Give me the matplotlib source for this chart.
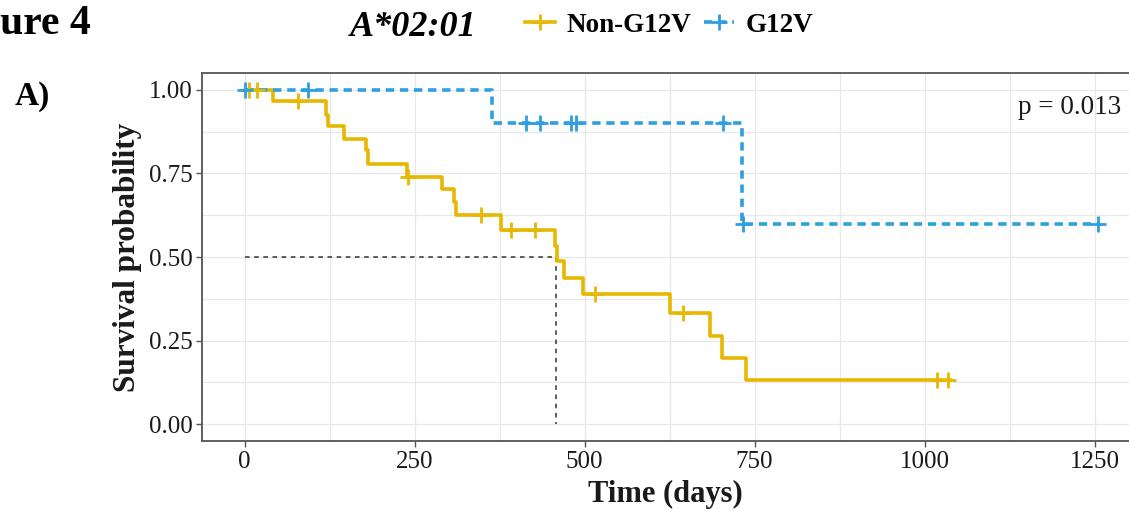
"""
Kaplan-Meier curves, A*02:01 cohort, Non-G12V vs G12V (Figure 4A).
Step values and censor times read off the published figure.
"""

import matplotlib
matplotlib.use("Agg")
import matplotlib.pyplot as plt
import numpy as np
from matplotlib.lines import Line2D

# --- data -------------------------------------------------------------------
non_times = [0, 41, 119, 122, 146, 178, 181, 238, 290, 308, 311, 377, 457, 460,
             469, 498, 626, 684, 702, 738, 1038]
non_surv = [1.0, 0.967, 0.925, 0.892, 0.853, 0.82, 0.777, 0.74, 0.702, 0.665,
            0.625, 0.58, 0.532, 0.487, 0.437, 0.39, 0.332, 0.265, 0.198, 0.133, 0.133]
non_censor = [6, 18, 78, 240, 347, 392, 427, 515, 645, 1019, 1034]

g12v_times = [0, 364, 731, 1255]
g12v_surv = [1.0, 0.9, 0.6, 0.6]
g12v_censor = [0, 93, 414, 435, 480, 488, 703, 733, 1255]

median_non = 458
p_label = "p = 0.013"
x_ticks = [0, 250, 500, 750, 1000, 1250]
y_ticks = [0.0, 0.25, 0.5, 0.75, 1.0]

YELLOW, BLUE = "#E7B800", "#2E9FDF"
INK, BORDER, GRID = "#1a1a1a", "#555555", "#e8e8e8"
SERIF = ["Liberation Serif", "DejaVu Serif"]
LW = 2.6
DASH = (0, (2.3, 1.6))

plt.rcParams["font.family"] = SERIF


def at(times, surv, t):
    # survival value of a post-step curve at time t
    idx = np.searchsorted(times, t, side="right") - 1
    return np.asarray(surv)[idx]


W, H = 1129, 515
fig = plt.figure(figsize=(W / 100, H / 100), dpi=100)

# axes placed in pixel terms (right edge runs off the image, as in the source)
left, right, top, bottom = 202, 1142, 73, 441
ax = fig.add_axes([left / W, 1 - bottom / H, (right - left) / W, (bottom - top) / H])
ax.set_xlim(-62.85, 1319.85)
ax.set_ylim(-0.05, 1.05)

ax.step(non_times, non_surv, where="post", color=YELLOW, lw=LW, zorder=3)
ax.plot(non_censor, at(non_times, non_surv, non_censor), ls="none", marker="+",
        ms=11, mew=2, color=YELLOW, zorder=4)
ax.step(g12v_times, g12v_surv, where="post", color=BLUE, lw=LW, ls=DASH, zorder=3)
ax.plot(g12v_censor, at(g12v_times, g12v_surv, g12v_censor), ls="none", marker="+",
        ms=11, mew=2, color=BLUE, zorder=4)

# median survival guide
ax.plot([0, median_non], [0.5, 0.5], color="#333333", lw=1.1, ls=(0, (3, 3)), zorder=2)
ax.plot([median_non, median_non], [0.5, 0], color="#333333", lw=1.1, ls=(0, (3, 3)), zorder=2)

ax.text(1213, 0.946, p_label, ha="center", va="center", fontsize=19.5, color=INK)

ax.set_xticks(x_ticks)
ax.set_yticks(y_ticks)
ax.set_xticklabels([str(t) for t in x_ticks])
ax.set_yticklabels([f"{v:.2f}" for v in y_ticks])
ax.set_xticks([125, 375, 625, 875, 1125], minor=True)
ax.set_yticks([0.125, 0.375, 0.625, 0.875], minor=True)
ax.grid(which="both", color=GRID, lw=0.9)
ax.set_axisbelow(True)
ax.tick_params(which="major", length=4, width=1, color=BORDER, labelsize=18,
               labelcolor=INK, pad=3)
ax.tick_params(which="minor", length=0)
for s in ax.spines.values():
    s.set_color(BORDER)
    s.set_linewidth(1.3)

fig.text(127 / W, 1 - 257 / H, "Survival probability", rotation=90, ha="center",
         va="center", fontsize=22.5, fontweight="bold", color=INK)
fig.text(665 / W, 1 - 494 / H, "Time (days)", ha="center", va="center",
         fontsize=22, fontweight="bold", color=INK)

# header row (the source figure is cropped through "Figure 4")
fig.text(0, 1 - 24 / H, "ure 4", ha="left", va="center", fontsize=30,
         fontweight="bold", color="black")
fig.text(15 / W, 1 - 97 / H, "A)", ha="left", va="center", fontsize=24,
         fontweight="bold", color="black")
fig.text(413 / W, 1 - 28 / H, "A*02:01", ha="center", va="center", fontsize=26,
         fontweight="bold", style="italic", color="black")

handles = [
    Line2D([], [], color=YELLOW, lw=LW, marker="+", ms=11, mew=2),
    Line2D([], [], color=BLUE, lw=LW, ls=DASH, marker="+", ms=11, mew=2),
]
fig.legend(handles, ["Non-G12V", "G12V"], loc="center left",
           bbox_to_anchor=(525 / W, 1 - 25 / H), ncol=2, frameon=False,
           borderpad=0, borderaxespad=0, handlelength=1.1, handletextpad=0.45,
           columnspacing=0.45, prop={"family": SERIF, "weight": "bold", "size": 19.5})

fig.savefig("out.png", dpi=100)
